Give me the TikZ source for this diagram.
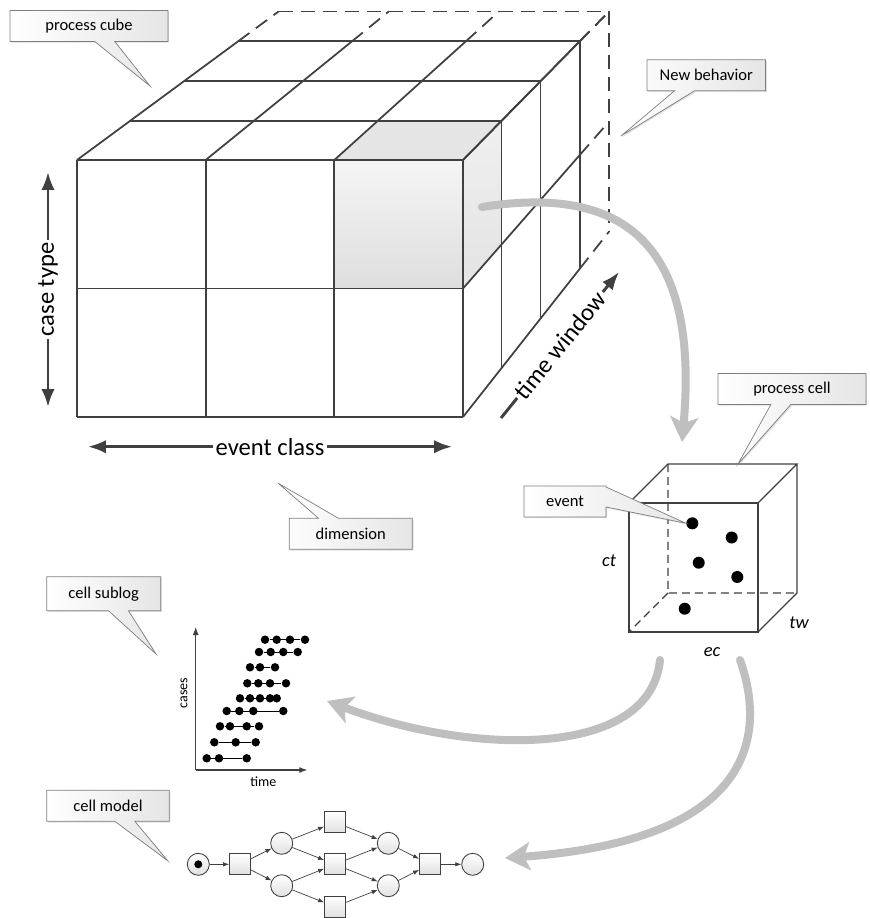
\documentclass[tikz,border=0pt]{standalone}
\usepackage{fontspec}
\setmainfont{Carlito}
\usepackage{tikz}
\usetikzlibrary{arrows.meta, shapes.callouts, shadows, calc}

\definecolor{linegray}{HTML}{404040}
\definecolor{flowgray}{HTML}{BFBFBF}
\definecolor{boxgray}{HTML}{7F7F7F}

\tikzset{
  cubeline/.style={draw=linegray, line width=1pt},
  newlayer/.style={cubeline, dash pattern=on 0.28cm off 0.16cm},
  cellline/.style={draw=linegray, line width=0.7pt},
  hiddenline/.style={cellline, dash pattern=on 0.16cm off 0.1cm},
  dimarrow/.style={draw=linegray, line width=1.7pt, >={Latex[length=0.36cm,width=0.27cm]}},
  dimlabel/.style={fill=white, inner sep=1.5pt, font=\fontsize{14}{16}\selectfont},
  flowarrow/.style={draw=flowgray, line width=0.16cm, line cap=round, ->, >={Stealth[length=0.5cm,width=0.56cm,inset=0.12cm]}},
  note/.style={rectangle callout, draw=boxgray, line width=0.4pt, left color=white, right color=black!10,
    drop shadow={opacity=0.25, shadow xshift=0.7pt, shadow yshift=-0.7pt},
    inner sep=0pt, minimum height=0.62cm, callout pointer width=0.4cm, font=\fontsize{9.4}{11}\selectfont},
  eventdot/.style={circle, fill=black, minimum size=0.24cm, inner sep=0pt},
  celllabel/.style={font=\fontsize{10.5}{12}\selectfont\itshape},
  logdot/.style={circle, fill=black, minimum size=0.17cm, inner sep=0pt},
  logaxis/.style={draw=linegray, line width=0.6pt, ->, >={Latex[length=0.16cm,width=0.12cm]}},
  loglabel/.style={font=\fontsize{8}{9}\selectfont},
  place/.style={circle, draw=linegray, line width=0.5pt, top color=white, bottom color=black!12, minimum size=0.44cm, inner sep=0pt},
  trans/.style={rectangle, draw=linegray, line width=0.5pt, top color=white, bottom color=black!12, minimum size=0.42cm, inner sep=0pt},
  arc/.style={draw=linegray, line width=0.4pt, ->, >={Latex[length=0.12cm,width=0.09cm]}}
}

\begin{document}
\begin{tikzpicture}[x=0.02cm, y=-0.02cm]
\useasboundingbox (0,0) rectangle (869,918);

\foreach \k/\s in {0/1,1/0.962,2/0.9236,3/0.885,4/0.856}
  \foreach \i in {0,...,3}
    \foreach \j in {0,1,2}
      \coordinate (c\i\j\k) at ({1478+\s*(77+128.67*\i-1478)},{-872+\s*(417-128.5*\j+872)});

\shade[top color=black!4, bottom color=black!13] (c210) rectangle (c320);
\fill[black!10] (c220) -- (c320) -- (c321) -- (c221) -- cycle;
\shade[top color=black!6, bottom color=black!11] (c310) -- (c320) -- (c321) -- (c311) -- cycle;

\foreach \i in {0,...,3} \draw[cubeline] (c\i00) -- (c\i20);
\foreach \j in {0,1,2} \draw[cubeline] (c0\j0) -- (c3\j0);
\foreach \k in {1,2,3} \draw[cubeline] (c02\k) -- (c32\k);
\foreach \i in {0,...,3} \draw[cubeline] (c\i20) -- (c\i23);
\foreach \k in {1,2,3} \draw[cubeline] (c30\k) -- (c32\k);
\foreach \j in {0,1,2} \draw[cubeline] (c3\j0) -- (c3\j3);
\foreach \i in {0,...,3} \draw[newlayer] (c\i23) -- (c\i24);
\foreach \j in {0,1,2} \draw[newlayer] (c3\j3) -- (c3\j4);
\draw[newlayer] (c024) -- (c324) -- (c304);

\coordinate (ctlow) at (48,407);
\coordinate (cthigh) at (48,172);
\coordinate (ecleft) at (88,446.7);
\coordinate (ecright) at (452,446.7);
\coordinate (twlow) at (501,418);
\coordinate (twhigh) at (619,272);
\draw[dimarrow, <->] (ctlow) -- (cthigh) node[dimlabel, midway, sloped] (ctname) {case type};
\draw[dimarrow, <->] (ecleft) -- (ecright) node[dimlabel, midway] (ecname) {event class};
\draw[dimarrow, ->] (twlow) -- (twhigh) node[dimlabel, midway, sloped] (twname) {time window};

\draw[cellline] (629,503) rectangle (758,632);
\draw[cellline] (629,503) -- (668,464) -- (797,464) -- (758,503) (797,464) -- (797,593) -- (758,632);
\draw[hiddenline] (668,464) -- (668,593) -- (797,593) (668,593) -- (629,632);
\coordinate (celltop) at (738,464);

\node[eventdot] (e1) at (692.3,523.3) {};
\node[eventdot] (e2) at (731.7,537.5) {};
\node[eventdot] (e3) at (698.7,562.7) {};
\node[eventdot] (e4) at (737.3,577) {};
\node[eventdot] (e5) at (684.7,608.7) {};

\node[celllabel] (ctcell) at (609,561) {ct};
\node[celllabel] (twcell) at (799,623) {tw};
\node[celllabel] (eccell) at (712,652) {ec};

\coordinate (origin) at (195.7,770);
\coordinate (casesend) at (195.7,627);
\coordinate (timeend) at (307.3,770);
\draw[logaxis] (origin) -- (casesend);
\draw[logaxis] (origin) -- (timeend);
\node[loglabel, rotate=90] (caseslabel) at (184,693) {cases};
\node[loglabel] (timelabel) at (263.3,782) {time};

\foreach \r/\yy/\last/\xs in {1/758.3/3/{206.7,219,246.7}, 2/742.3/3/{214.3,235.7,255.7},
    3/726.3/4/{220,230,246.7,259}, 4/711/4/{226.7,239.3,253.3,283.3},
    5/698.3/5/{240,250,260,270,276.7}, 6/683.3/4/{247.3,258.3,270,286},
    7/667.3/3/{250,260,275}, 8/652/4/{259,270.7,283.3,297.7}, 9/639.7/4/{265,276.7,290,305}}{
  \foreach \xx [count=\n] in \xs
    \node[logdot] (d\r-\n) at (\xx,\yy) {};
  \draw[line width=0.5pt] (d\r-1) -- (d\r-\last);
}

\node[place] (pstart) at (198.3,864.3) {};
\node[circle, fill=black, minimum size=0.16cm, inner sep=0pt] (token) at (pstart) {};
\node[trans] (tsplit) at (240,864.3) {};
\node[place] (pa) at (281.7,843.3) {};
\node[place] (pb) at (281.7,885.7) {};
\node[trans] (ttop) at (335,822.3) {};
\node[trans] (tmid) at (335,864.3) {};
\node[trans] (tbot) at (335,906.7) {};
\node[place] (pc) at (388.3,843.3) {};
\node[place] (pd) at (388.3,885.7) {};
\node[trans] (tjoin) at (430,864.3) {};
\node[place] (pend) at (472.7,864.3) {};
\draw[arc] (pstart) -- (tsplit);
\draw[arc] (tsplit) -- (pa);
\draw[arc] (tsplit) -- (pb);
\draw[arc] (pa) -- (ttop);
\draw[arc] (pa) -- (tmid);
\draw[arc] (pb) -- (tmid);
\draw[arc] (pb) -- (tbot);
\draw[arc] (ttop) -- (pc);
\draw[arc] (tmid) -- (pc);
\draw[arc] (tmid) -- (pd);
\draw[arc] (tbot) -- (pd);
\draw[arc] (pc) -- (tjoin);
\draw[arc] (pd) -- (tjoin);
\draw[arc] (tjoin) -- (pend);

\coordinate (flowstart) at (482,207);
\coordinate (flowend) at (682,442);
\coordinate (logstart) at (660,660);
\coordinate (logend) at (327,701);
\coordinate (modelstart) at (740,660);
\coordinate (modelend) at (505,858);
\draw[flowarrow] (flowstart) .. controls (620,185) and (700,240) .. (flowend);
\draw[flowarrow] (logstart) .. controls (650,760) and (470,755) .. (logend);
\draw[flowarrow] (modelstart) .. controls (765,730) and (760,840) .. (modelend);

\node[note, minimum width=3.16cm, callout absolute pointer={(150,86)}] (cubenote) at (89,26) {process cube};
\node[note, minimum width=2.37cm, callout absolute pointer={(621,136)}] (newnote) at (706.3,75.3) {New behavior};
\node[note, minimum width=2.96cm, callout absolute pointer={(celltop)}] (cellnote) at (792,389) {process cell};
\node[note, minimum width=1.64cm, callout absolute pointer={(e1.west)}] (eventnote) at (565,501.5) {event};
\node[note, minimum width=2.46cm, callout absolute pointer={(278.3,483.3)}] (dimnote) at (350.8,533.8) {dimension};
\node[note, minimum width=2.28cm, minimum height=0.68cm, callout absolute pointer={(156,654)}] (lognote) at (103.7,593.7) {cell sublog};
\node[note, minimum width=2.45cm, callout absolute pointer={(167.7,860.7)}] (modelnote) at (108,805.8) {cell model};
\end{tikzpicture}
\end{document}
